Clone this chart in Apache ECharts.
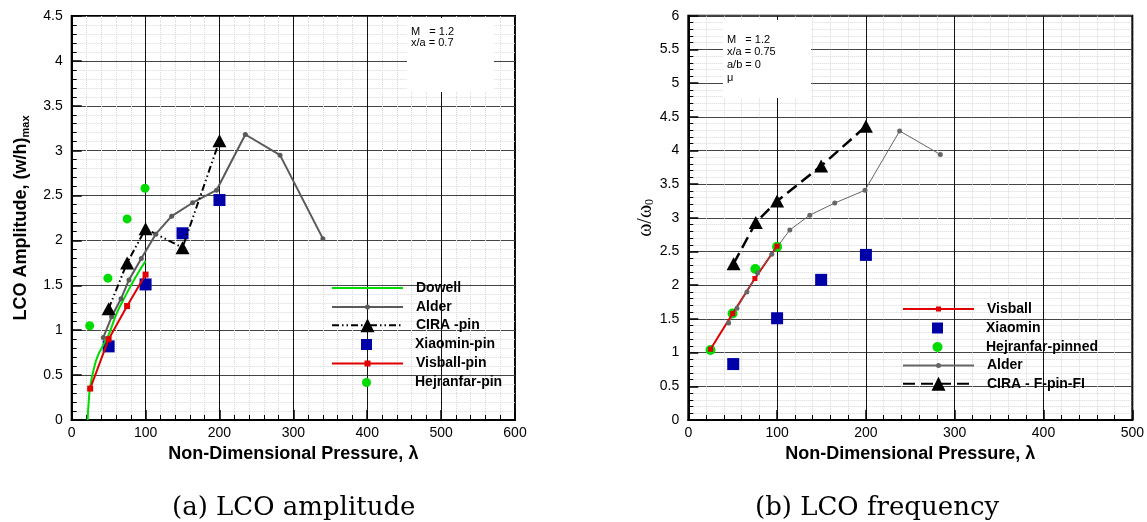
<!DOCTYPE html>
<html>
<head>
<meta charset="utf-8">
<script src="https://cdn.jsdelivr.net/npm/echarts@6/dist/echarts.min.js"></script>
<style>
html, body { margin: 0; padding: 0; background: #fff; }
#chart { width: 1147px; height: 522px; }
</style>
</head>
<body>
<div id="chart"></div>
<script>
// data, [lambda, value]

// (a) LCO amplitude
const dowellA = [[21.5, 0], [23, 0.2], [25, 0.37], [30, 0.57], [35, 0.71], [43, 0.84], [50, 0.95], [61, 1.19], [70, 1.34], [79, 1.48], [90, 1.64], [100, 1.77]];
const alderA = [[42.8, 0.92], [54, 1.15], [66.7, 1.35], [77.5, 1.56], [94.2, 1.80], [113.7, 2.07], [135.3, 2.27], [163.7, 2.42], [196, 2.56], [235, 3.18], [282, 2.95], [340, 2.02]];
const ciraA = [[50, 1.24], [75, 1.75], [100, 2.13], [150, 1.92], [200, 3.11]];
const xiaominA = [[50, 0.82], [100, 1.51], [150, 2.08], [200, 2.45]];
const visballA = [[25, 0.35], [50, 0.90], [75, 1.27], [100, 1.62]];
const hejranfarA = [[24.3, 1.05], [49, 1.58], [75, 2.24], [99.2, 2.58]];

// (b) LCO frequency
const visballB = [[25, 1.05], [50, 1.58], [75, 2.1], [100, 2.58]];
const xiaominB = [[50.6, 0.83], [100, 1.51], [149.6, 2.08], [200, 2.45]];
const hejranfarB = [[25, 1.04], [49.8, 1.58], [75.5, 2.24], [100, 2.57]];
const alderB = [[45.4, 1.44], [54.8, 1.66], [66, 1.90], [78, 2.18], [94, 2.46], [114.3, 2.82], [136.8, 3.04], [164.9, 3.22], [199, 3.41], [238, 4.29], [283.8, 3.94]];
const ciraB = [[51, 2.32], [76, 2.93], [100, 3.25], [149.6, 3.77], [200, 4.36]];

const notesA = ["M   = 1.2", "x/a = 0.7"];
const notesB = ["M   = 1.2", "x/a = 0.75", "a/b = 0", "\u03bc"];

const SANS = "Liberation Sans";
const GREEN = "#00dc00";
const RED = "#e00000";
const BLUE = "#0000a8";

const chart = echarts.init(document.getElementById("chart"), null, { renderer: "canvas" });

function xAxisFor(grid, max)
{
    return {
        gridIndex: grid, type: "value", min: 0, max: max, interval: 100,
        name: "Non-Dimensional Pressure, \u03bb", nameLocation: "middle", nameGap: 17,
        nameTextStyle: { fontFamily: SANS, fontWeight: "bold", fontSize: 18, color: "#000" },
        axisLine: { onZero: false, lineStyle: { color: "#000", width: 2 } },
        axisTick: { inside: true, length: 10, lineStyle: { color: "#000", width: 1.5 } },
        minorTick: { show: true, splitNumber: 5, length: 5, lineStyle: { color: "#000", width: 1 } },
        splitLine: { show: true, lineStyle: { color: "#111", width: 1 } },
        minorSplitLine: { show: true, lineStyle: { color: "#d8d8d8", width: 1, type: "dotted" } },
        axisLabel: { color: "#000", fontFamily: SANS, fontSize: 14, margin: 6 }
    };
}

function yAxisFor(grid, max, name, gap, rich)
{
    return {
        gridIndex: grid, type: "value", min: 0, max: max, interval: 0.5,
        name: name, nameLocation: "middle", nameGap: gap,
        nameTextStyle: { color: "#000", rich: rich },
        axisLine: { onZero: false, lineStyle: { color: "#000", width: 2 } },
        axisTick: { inside: true, length: 10, lineStyle: { color: "#000", width: 1.5 } },
        minorTick: { show: true, splitNumber: 5, length: 5, lineStyle: { color: "#000", width: 1 } },
        splitLine: { show: true, lineStyle: { color: "#444", width: 1.2 } },
        minorSplitLine: { show: true, lineStyle: { color: "#d8d8d8", width: 1, type: "dotted" } },
        axisLabel: { color: "#000", fontFamily: SANS, fontSize: 14, margin: 9 }
    };
}

// one legend per entry so each keeps its own marker size;
// the text always starts 84px right of the entry's left edge
function legendItem(name, label, left, cy, markSize, hasLine, noMark)
{
    const ih = hasLine ? markSize / 0.8 : markSize;
    const iw = hasLine ? 71 : markSize;
    const x = hasLine ? left : left + (71 - markSize) / 2;
    const pad = left + 84 - (x + iw + 5);
    const entry = noMark ? { name: name, itemStyle: { opacity: 0 } } : name;
    return {
        data: [entry], formatter: function () { return label; },
        orient: "vertical", left: x, top: cy - Math.max(ih, 16) / 2,
        itemWidth: iw, itemHeight: ih, padding: 0, selectedMode: false,
        textStyle: { fontFamily: SANS, fontWeight: "bold", fontSize: 14, color: "#000", padding: [0, 0, 0, pad] }
    };
}

function noteBox(x, y, w, h, lines, top, step)
{
    const els = [{ type: "rect", left: x, top: y, z: 1, shape: { width: w, height: h }, style: { fill: "#fff" } }];
    lines.forEach(function (t, i)
    {
        els.push({ type: "text", left: x + 4, top: top + i * step, z: 2,
            style: { text: t, font: "11px " + SANS, fill: "#000" } });
    });
    return els;
}

function caption(text, cx)
{
    return { type: "text", top: 495, left: cx - 121, z: 2,
        style: { text: text, font: "26px 'DejaVu Serif'", fill: "#000" } };
}

const option = {
    animation: false,
    backgroundColor: "#fff",
    grid: [
        { left: 71.7, top: 16, width: 443.3, height: 404, show: true, borderColor: "#000", borderWidth: 2 },
        { left: 688.3, top: 15.7, width: 444.5, height: 404.3, show: true, borderColor: "#000", borderWidth: 2 }
    ],
    xAxis: [xAxisFor(0, 600), xAxisFor(1, 500)],
    yAxis: [
        yAxisFor(0, 4.5, "{a|LCO Amplitude, (w/h)}{b|max}", 40, {
            a: { fontFamily: SANS, fontWeight: "bold", fontSize: 18, lineHeight: 20, verticalAlign: "top" },
            b: { fontFamily: SANS, fontWeight: "bold", fontSize: 11, lineHeight: 12, verticalAlign: "bottom", padding: [10, 0, 0, 0] }
        }),
        yAxisFor(1, 6, "{a|\u03c9/\u03c9}{b|0}", 30, {
            a: { fontFamily: "Liberation Serif", fontSize: 20, lineHeight: 20, verticalAlign: "top" },
            b: { fontFamily: "Liberation Serif", fontSize: 12, lineHeight: 12, verticalAlign: "bottom", padding: [10, 0, 0, 0] }
        })
    ],
    legend: [
        legendItem("Dowell", "Dowell", 331, 289, 8, true, true),
        legendItem("Alder (a)", "Alder", 331, 308, 5, true),
        legendItem("CIRA -pin", "CIRA -pin", 331, 327, 14, true),
        legendItem("Xiaomin-pin", "Xiaomin-pin", 331, 345.5, 11, false),
        legendItem("Visball-pin", "Visball-pin", 331, 364.5, 6, true),
        legendItem("Hejranfar-pin", "Hejranfar-pin", 331, 383.5, 9, false),
        legendItem("Visball", "Visball", 902, 310, 5, true),
        legendItem("Xiaomin", "Xiaomin", 902, 329, 11, false),
        legendItem("Hejranfar-pinned", "Hejranfar-pinned", 902, 348, 10, false),
        legendItem("Alder (b)", "Alder", 902, 366.5, 5, true),
        legendItem("CIRA - F-pin-FI", "CIRA - F-pin-FI", 902, 385.5, 14, true)
    ],
    series: [
        { name: "Dowell", type: "line", xAxisIndex: 0, yAxisIndex: 0, data: dowellA, smooth: true,
          showSymbol: false, symbol: "none", lineStyle: { color: GREEN, width: 2 }, itemStyle: { color: GREEN } },
        { name: "Alder (a)", type: "line", xAxisIndex: 0, yAxisIndex: 0, data: alderA,
          symbol: "circle", symbolSize: 5, lineStyle: { color: "#5a5a5a", width: 2 }, itemStyle: { color: "#5a5a5a" } },
        { name: "CIRA -pin", type: "line", xAxisIndex: 0, yAxisIndex: 0, data: ciraA,
          symbol: "triangle", symbolSize: [14, 13],
          lineStyle: { color: "#000", width: 2, type: [7, 3, 1.5, 3, 1.5, 3] }, itemStyle: { color: "#000" } },
        { name: "Xiaomin-pin", type: "scatter", xAxisIndex: 0, yAxisIndex: 0, data: xiaominA,
          symbol: "rect", symbolSize: 12, itemStyle: { color: BLUE, opacity: 1 } },
        { name: "Visball-pin", type: "line", xAxisIndex: 0, yAxisIndex: 0, data: visballA,
          symbol: "rect", symbolSize: 6, lineStyle: { color: RED, width: 2 }, itemStyle: { color: RED } },
        { name: "Hejranfar-pin", type: "scatter", xAxisIndex: 0, yAxisIndex: 0, data: hejranfarA,
          symbol: "circle", symbolSize: 9, itemStyle: { color: GREEN, opacity: 1 } },

        { name: "Visball", type: "line", xAxisIndex: 1, yAxisIndex: 1, data: visballB,
          symbol: "rect", symbolSize: 5, lineStyle: { color: RED, width: 2 }, itemStyle: { color: RED } },
        { name: "Xiaomin", type: "scatter", xAxisIndex: 1, yAxisIndex: 1, data: xiaominB,
          symbol: "rect", symbolSize: 12, itemStyle: { color: BLUE, opacity: 1 } },
        { name: "Hejranfar-pinned", type: "scatter", xAxisIndex: 1, yAxisIndex: 1, data: hejranfarB,
          symbol: "circle", symbolSize: 10, itemStyle: { color: GREEN, opacity: 1 } },
        { name: "Alder (b)", type: "line", xAxisIndex: 1, yAxisIndex: 1, data: alderB,
          symbol: "circle", symbolSize: 5, lineStyle: { color: "#666", width: 1 }, itemStyle: { color: "#666" } },
        { name: "CIRA - F-pin-FI", type: "line", xAxisIndex: 1, yAxisIndex: 1, data: ciraB,
          symbol: "triangle", symbolSize: [14, 13],
          lineStyle: { color: "#000", width: 2.5, type: [12, 6] }, itemStyle: { color: "#000" } }
    ],
    graphic: [].concat(
        noteBox(407, 18, 87, 74, notesA, 26, 11),
        noteBox(723, 20, 88, 78, notesB, 34, 12.7),
        [caption("(a) LCO amplitude", 293), caption("(b) LCO frequency", 876)]
    )
};

chart.setOption(option);
</script>
</body>
</html>
